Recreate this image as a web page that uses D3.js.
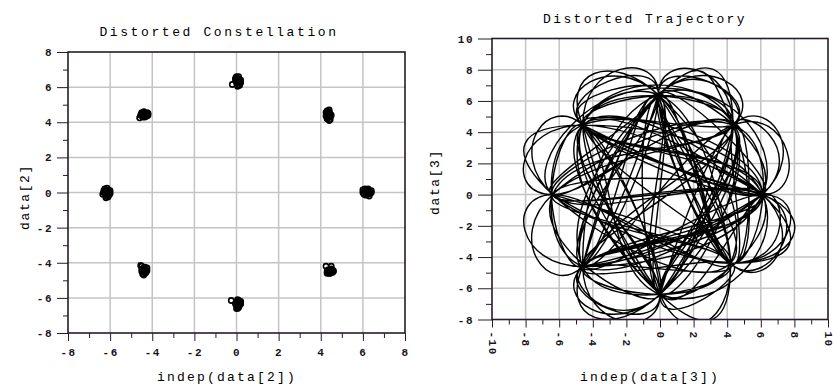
<!DOCTYPE html>
<html>
<head>
<meta charset="utf-8">
<script src="https://cdn.jsdelivr.net/npm/d3@7/dist/d3.min.js"></script>
<style>
  body { margin: 0; background: #fff; }
  svg { display: block; }
  .title, .axis-title { font-family: "Liberation Mono", monospace; font-size: 13px; fill: #000; }
  .tick text { font-family: "Liberation Mono", monospace; font-size: 11px; font-weight: bold; fill: #1c121c; }
  .tick line, .domain { stroke: #2a1a2a; }
</style>
</head>
<body>
<svg id="chart" width="833" height="390"></svg>
<script>
// left: distorted constellation samples, one cluster per symbol
const constX = [
  6.0, 6.1, 6.2, 6.3, 6.4, 6.05, 6.15, 6.25, 6.35, 6.1, 6.2, 6.3, 6.0, 6.4, 6.15, 6.25,
  4.3, 4.4, 4.35, 4.45, 4.3, 4.4, 4.35, 4.25, 4.45, 4.4, 4.3, 4.5, 4.35, 4.4, 4.25, 4.45,
  0.0, 0.1, 0.05, 0.15, -0.05, 0.1, 0.2, 0.0, -0.2, 0.15, 0.05, 0.2, -0.05, 0.1, 0.0, 0.15,
  -4.5, -4.4, -4.3, -4.2, -4.45, -4.35, -4.25, -4.55, -4.6, -4.3, -4.5, -4.4, -4.2, -4.35, -4.45, -4.25,
  -6.1, -6.2, -6.0, -6.15, -6.25, -6.05, -6.1, -6.3, -6.35, -6.2, -6.0, -6.1, -6.2, -6.05, -6.15, -6.3,
  -4.5, -4.4, -4.3, -4.45, -4.35, -4.5, -4.25, -4.4, -4.55, -4.35, -4.3, -4.45, -4.4, -4.25, -4.5, -4.35,
  0.1, 0.0, 0.15, 0.05, 0.2, -0.05, 0.1, 0.0, -0.25, 0.15, 0.05, 0.2, 0.1, 0.0, 0.15, 0.05,
  4.35, 4.45, 4.55, 4.4, 4.5, 4.3, 4.6, 4.45, 4.25, 4.5, 4.4, 4.55, 4.35, 4.45, 4.6, 4.3
];
const constY = [
  0.0, 0.1, 0.15, 0.1, 0.0, -0.1, -0.15, -0.1, -0.05, 0.2, 0.05, -0.2, 0.15, 0.1, -0.05, 0.2,
  4.65, 4.55, 4.4, 4.3, 4.2, 4.7, 4.5, 4.35, 4.15, 4.6, 4.5, 4.4, 4.25, 4.1, 4.55, 4.45,
  6.55, 6.45, 6.3, 6.2, 6.4, 6.1, 6.25, 6.6, 6.15, 6.35, 6.05, 6.4, 6.5, 6.6, 6.25, 6.1,
  4.5, 4.5, 4.45, 4.4, 4.35, 4.3, 4.55, 4.4, 4.25, 4.35, 4.55, 4.6, 4.5, 4.45, 4.3, 4.35,
  0.15, 0.05, -0.05, -0.15, 0.2, 0.1, -0.25, 0.0, -0.1, -0.3, 0.1, 0.0, -0.2, -0.15, 0.25, 0.1,
  -4.2, -4.3, -4.4, -4.5, -4.6, -4.35, -4.45, -4.7, -4.15, -4.25, -4.55, -4.65, -4.45, -4.3, -4.5, -4.35,
  -6.15, -6.25, -6.3, -6.45, -6.2, -6.35, -6.55, -6.6, -6.15, -6.4, -6.1, -6.35, -6.5, -6.4, -6.2, -6.6,
  -4.4, -4.5, -4.45, -4.55, -4.35, -4.5, -4.45, -4.6, -4.2, -4.2, -4.6, -4.55, -4.45, -4.4, -4.5, -4.6
];

// right: trajectory hub positions (symbol 0..7) and the symbol sequence
const hubX = [6.1, 4.35, -0.1, -4.6, -6.4, -4.6, 0.0, 4.2];
const hubY = [0.0, 4.45, 6.4, 4.45, 0.0, -4.6, -6.4, -4.4];
const symbols = [
  0, 3, 6, 7, 2, 0, 3, 2, 7, 1, 4, 0, 5, 6, 1, 6, 5, 7, 4, 7, 0, 3, 1, 6, 2, 5, 4, 1, 3, 6,
  7, 2, 7, 1, 0, 5, 0, 2, 7, 0, 4, 1, 7, 2, 1, 6, 1, 2, 5, 7, 4, 3, 0, 3, 1, 2, 5, 2, 6, 0,
  7, 4, 7, 0, 3, 1, 6, 5, 0, 3, 5, 2, 3, 6, 3, 1, 5, 0, 7, 4, 5, 0, 2, 7, 4, 3, 6, 0, 3, 4,
  1, 7, 2, 7, 6, 2, 7, 1, 2, 5, 2, 1, 6, 0, 3, 4, 7, 5, 2, 5, 4, 1, 5, 6, 1, 7, 2, 3, 0, 5,
  7, 6, 1, 4, 2, 3, 0, 3, 2, 5, 7, 4, 0, 7, 4, 7, 0, 3, 1, 6, 0, 3, 2, 7, 0, 3, 6, 4, 1, 2,
  7, 2, 4, 0, 7, 2, 7, 0, 3, 1, 6, 5, 0, 2, 5, 6, 3, 1, 6, 1, 0, 5, 7, 2, 3, 7, 4, 5, 0, 5,
  3, 6, 5, 0, 2, 7, 6, 3, 6, 7, 2, 0, 3, 0, 1, 5, 2, 1, 4, 6, 3, 4, 7, 5, 2, 5, 4, 1, 3, 6,
  7, 2
];

const leftMajor = [-8, -6, -4, -2, 0, 2, 4, 6, 8];
const leftMinor = [-7, -5, -3, -1, 1, 3, 5, 7];
const rightXMajor = [-10, -8, -6, -4, -2, 0, 2, 4, 6, 8, 10];
const rightXMinor = [-9, -7, -5, -3, -1, 1, 3, 5, 7, 9];
const rightYMajor = [-8, -6, -4, -2, 0, 2, 4, 6, 8, 10];
const rightYMinor = [-7, -5, -3, -1, 1, 3, 5, 7, 9];

const svg = d3.select('#chart');
const frameColor = '#2a1a2a';
const gridColor = '#c4c4c4';

function drawGrid(g, x, y, xGrid, yGrid) {
  const [x0, x1] = x.range();
  const [y0, y1] = y.range();
  g.append('g').selectAll('line').data(xGrid).join('line')
    .attr('x1', (d) => x(d)).attr('x2', (d) => x(d))
    .attr('y1', y0).attr('y2', y1)
    .attr('stroke', gridColor).attr('stroke-width', 1.5);
  g.append('g').selectAll('line').data(yGrid).join('line')
    .attr('x1', x0).attr('x2', x1)
    .attr('y1', (d) => y(d)).attr('y2', (d) => y(d))
    .attr('stroke', gridColor).attr('stroke-width', 1.5);
}

function drawBox(g, x, y) {
  const [x0, x1] = x.range();
  const [y0, y1] = y.range();
  g.append('rect')
    .attr('x', x0).attr('y', y1)
    .attr('width', x1 - x0).attr('height', y0 - y1)
    .attr('fill', 'none').attr('stroke', frameColor).attr('stroke-width', 1.6);
}

const fmt = (d) => (d < 0 ? '-' + Math.abs(d) : String(d));

// ---------- left panel ----------
const xL = d3.scaleLinear().domain([-8, 8]).range([68, 405]);
const yL = d3.scaleLinear().domain([-8, 8]).range([333, 52]);
const left = svg.append('g');

drawGrid(left, xL, yL, [-6, -4, -2, 0, 2, 4, 6], [-6, -4, -2, 0, 2, 4, 6]);

left.append('g')
  .attr('transform', 'translate(0,333)')
  .call(d3.axisBottom(xL).tickValues(leftMinor).tickSize(5).tickFormat(''))
  .call((g) => g.select('.domain').remove());
left.append('g')
  .attr('transform', 'translate(0,333)')
  .call(d3.axisBottom(xL).tickValues(leftMajor).tickSize(8).tickPadding(7).tickFormat(fmt))
  .call((g) => g.select('.domain').remove())
  .call((g) => g.selectAll('text').attr('letter-spacing', '1.5px'));
left.append('g')
  .attr('transform', 'translate(68,0)')
  .call(d3.axisLeft(yL).tickValues(leftMinor).tickSize(5).tickFormat(''))
  .call((g) => g.select('.domain').remove());
left.append('g')
  .attr('transform', 'translate(68,0)')
  .call(d3.axisLeft(yL).tickValues(leftMajor).tickSize(11).tickPadding(4).tickFormat(fmt))
  .call((g) => g.select('.domain').remove())
  .call((g) => g.selectAll('text').attr('letter-spacing', '1.5px'));

left.append('g').selectAll('circle')
  .data(d3.range(constX.length))
  .join('circle')
  .attr('cx', (i) => xL(constX[i]))
  .attr('cy', (i) => yL(constY[i]))
  .attr('r', 2.6)
  .attr('fill', 'none')
  .attr('stroke', '#000')
  .attr('stroke-width', 1.6);

drawBox(left, xL, yL);

left.append('text').attr('class', 'title')
  .attr('x', 219).attr('y', 36).attr('text-anchor', 'middle')
  .attr('letter-spacing', '2.6px')
  .text('Distorted Constellation');
left.append('text').attr('class', 'axis-title')
  .attr('x', 227).attr('y', 381).attr('text-anchor', 'middle')
  .attr('letter-spacing', '2.2px')
  .text('indep(data[2])');
left.append('text').attr('class', 'axis-title')
  .attr('transform', 'translate(29,197) rotate(-90)').attr('text-anchor', 'middle')
  .attr('letter-spacing', '1.6px')
  .text('data[2]');

// ---------- right panel ----------
const xR = d3.scaleLinear().domain([-10, 10]).range([492, 828]);
const yR = d3.scaleLinear().domain([-8, 10]).range([319.5, 38.5]);
const right = svg.append('g');

drawGrid(right, xR, yR, [-8, -6, -4, -2, 0, 2, 4, 6, 8], [-6, -4, -2, 0, 2, 4, 6, 8]);

right.append('g')
  .attr('transform', 'translate(0,319.5)')
  .call(d3.axisBottom(xR).tickValues(rightXMinor).tickSize(5).tickFormat(''))
  .call((g) => g.select('.domain').remove());
right.append('g')
  .attr('transform', 'translate(0,319.5)')
  .call(d3.axisBottom(xR).tickValues(rightXMajor).tickSize(8).tickFormat(fmt))
  .call((g) => g.select('.domain').remove())
  .call((g) => g.selectAll('text')
    .attr('transform', 'translate(0,12) rotate(90)')
    .attr('x', 0).attr('y', 0).attr('dy', '0.35em')
    .attr('text-anchor', 'start')
    .attr('letter-spacing', '1.5px'));
right.append('g')
  .attr('transform', 'translate(492,0)')
  .call(d3.axisLeft(yR).tickValues(rightYMinor).tickSize(6).tickFormat(''))
  .call((g) => g.select('.domain').remove());
right.append('g')
  .attr('transform', 'translate(492,0)')
  .call(d3.axisLeft(yR).tickValues(rightYMajor).tickSize(14).tickPadding(4).tickFormat(fmt))
  .call((g) => g.select('.domain').remove())
  .call((g) => g.selectAll('text').attr('letter-spacing', '1.5px'));

svg.append('clipPath').attr('id', 'clipR')
  .append('rect')
  .attr('x', 492).attr('y', 38.5).attr('width', 336).attr('height', 281);

const traj = d3.line()
  .x((s) => xR(hubX[s]))
  .y((s) => yR(hubY[s]))
  .curve(d3.curveCardinal.tension(-0.9));

right.append('path')
  .datum(symbols)
  .attr('clip-path', 'url(#clipR)')
  .attr('d', traj)
  .attr('fill', 'none')
  .attr('stroke', '#000')
  .attr('stroke-width', 1.4);

drawBox(right, xR, yR);

right.append('text').attr('class', 'title')
  .attr('x', 645).attr('y', 23).attr('text-anchor', 'middle')
  .attr('letter-spacing', '2.4px')
  .text('Distorted Trajectory');
right.append('text').attr('class', 'axis-title')
  .attr('x', 650).attr('y', 381).attr('text-anchor', 'middle')
  .attr('letter-spacing', '2.2px')
  .text('indep(data[3])');
right.append('text').attr('class', 'axis-title')
  .attr('transform', 'translate(439,182) rotate(-90)').attr('text-anchor', 'middle')
  .attr('letter-spacing', '1.6px')
  .text('data[3]');
</script>
</body>
</html>
